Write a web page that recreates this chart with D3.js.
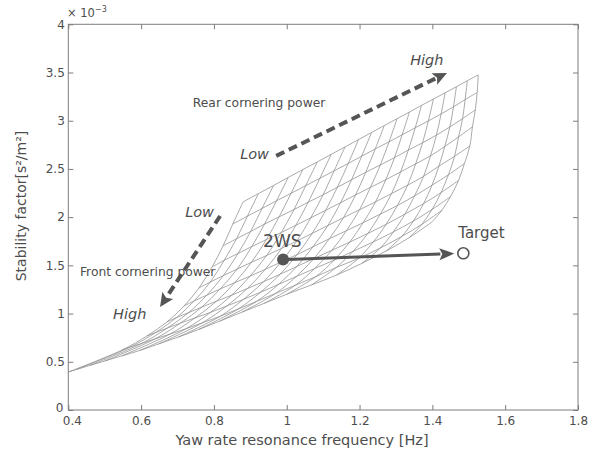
<!DOCTYPE html>
<html>
<head>
<meta charset="utf-8">
<script src="https://cdn.jsdelivr.net/npm/d3@7"></script>
<style>
  body { margin: 0; background: #fff; }
  text { font-family: "DejaVu Sans", sans-serif; }
</style>
</head>
<body>
<svg id="chart" width="595" height="461"></svg>
<script>
// Axis ticks
const xTickValues = [0.4, 0.6, 0.8, 1, 1.2, 1.4, 1.6, 1.8];
const yTickValues = [0, 0.5, 1, 1.5, 2, 2.5, 3, 3.5, 4];

// Yaw rate resonance frequency [Hz] over the cornering-power grid.
// Rows: front cornering power, low -> high. Columns: rear cornering power, low -> high.
const resonanceFreq = [
  [0.880, 0.922, 0.964, 1.004, 1.044, 1.084, 1.122, 1.160, 1.197, 1.233, 1.268, 1.303, 1.337, 1.370, 1.403, 1.435, 1.466, 1.496, 1.526],
  [0.852, 0.892, 0.932, 0.972, 1.012, 1.052, 1.091, 1.130, 1.169, 1.206, 1.243, 1.281, 1.317, 1.353, 1.389, 1.424, 1.458, 1.490, 1.523],
  [0.825, 0.862, 0.901, 0.939, 0.979, 1.020, 1.059, 1.100, 1.139, 1.178, 1.217, 1.257, 1.296, 1.334, 1.373, 1.411, 1.448, 1.483, 1.518],
  [0.795, 0.828, 0.866, 0.904, 0.944, 0.985, 1.025, 1.066, 1.107, 1.148, 1.189, 1.230, 1.272, 1.313, 1.354, 1.395, 1.434, 1.472, 1.510],
  [0.759, 0.790, 0.826, 0.864, 0.903, 0.945, 0.986, 1.028, 1.070, 1.113, 1.156, 1.200, 1.244, 1.288, 1.332, 1.376, 1.418, 1.461, 1.503],
  [0.718, 0.746, 0.781, 0.817, 0.857, 0.899, 0.941, 0.984, 1.028, 1.072, 1.117, 1.164, 1.210, 1.257, 1.304, 1.351, 1.399, 1.444, 1.488],
  [0.671, 0.697, 0.731, 0.767, 0.807, 0.849, 0.892, 0.937, 0.982, 1.028, 1.075, 1.124, 1.173, 1.223, 1.273, 1.325, 1.376, 1.424, 1.472],
  [0.616, 0.640, 0.672, 0.708, 0.748, 0.791, 0.835, 0.881, 0.928, 0.977, 1.026, 1.077, 1.130, 1.182, 1.238, 1.293, 1.348, 1.399, 1.450],
  [0.548, 0.569, 0.602, 0.638, 0.679, 0.723, 0.768, 0.817, 0.866, 0.917, 0.970, 1.024, 1.080, 1.136, 1.197, 1.257, 1.316, 1.371, 1.426],
  [0.400, 0.423, 0.459, 0.500, 0.546, 0.596, 0.648, 0.702, 0.758, 0.816, 0.876, 0.938, 1.001, 1.068, 1.137, 1.206, 1.273, 1.337, 1.399]
];

// Stability factor [x10^-3 s^2/m^2] on the same grid.
const stabilityFactor = [
  [2.158, 2.244, 2.329, 2.412, 2.493, 2.573, 2.651, 2.728, 2.804, 2.878, 2.950, 3.021, 3.090, 3.159, 3.225, 3.289, 3.353, 3.415, 3.475],
  [1.930, 2.010, 2.090, 2.170, 2.248, 2.326, 2.403, 2.480, 2.557, 2.633, 2.707, 2.781, 2.854, 2.927, 2.998, 3.070, 3.144, 3.219, 3.293],
  [1.702, 1.776, 1.852, 1.928, 2.003, 2.079, 2.155, 2.232, 2.310, 2.388, 2.465, 2.541, 2.617, 2.696, 2.771, 2.850, 2.935, 3.022, 3.112],
  [1.484, 1.552, 1.623, 1.695, 1.767, 1.841, 1.916, 1.993, 2.071, 2.150, 2.230, 2.309, 2.388, 2.470, 2.552, 2.637, 2.732, 2.832, 2.936],
  [1.266, 1.327, 1.394, 1.462, 1.532, 1.603, 1.677, 1.753, 1.832, 1.913, 1.995, 2.077, 2.159, 2.245, 2.331, 2.424, 2.529, 2.631, 2.738],
  [1.079, 1.132, 1.192, 1.255, 1.320, 1.388, 1.459, 1.534, 1.611, 1.693, 1.776, 1.860, 1.943, 2.031, 2.121, 2.220, 2.331, 2.439, 2.556],
  [0.913, 0.958, 1.011, 1.068, 1.128, 1.191, 1.260, 1.332, 1.408, 1.489, 1.572, 1.656, 1.741, 1.832, 1.925, 2.033, 2.141, 2.255, 2.381],
  [0.768, 0.804, 0.850, 0.901, 0.955, 1.013, 1.078, 1.147, 1.221, 1.302, 1.384, 1.468, 1.554, 1.645, 1.744, 1.847, 1.960, 2.079, 2.214],
  [0.623, 0.651, 0.691, 0.737, 0.787, 0.842, 0.904, 0.972, 1.046, 1.126, 1.210, 1.295, 1.383, 1.478, 1.572, 1.680, 1.800, 1.925, 2.071],
  [0.394, 0.421, 0.462, 0.508, 0.560, 0.617, 0.685, 0.756, 0.835, 0.922, 1.013, 1.106, 1.202, 1.297, 1.400, 1.520, 1.649, 1.789, 1.950]
];

// Operating points
const point2WS = [0.99, 1.56];
const pointTarget = [1.485, 1.625];

// Direction arrows for the cornering-power sweeps
const rearArrow = { from: [0.971, 2.635], to: [1.440, 3.496] };
const frontArrow = { from: [0.817, 2.012], to: [0.652, 1.068] };

// Text annotations
const notes = [
  { text: "Rear cornering power", at: [0.742, 3.143], size: 12.3, italic: false },
  { text: "Low", at: [0.872, 2.604], size: 14.5, italic: true },
  { text: "High", at: [1.339, 3.574], size: 14.5, italic: true },
  { text: "Front cornering power", at: [0.432, 1.390], size: 12.3, italic: false },
  { text: "Low", at: [0.721, 2.002], size: 14.5, italic: true },
  { text: "High", at: [0.523, 0.944], size: 14.5, italic: true },
  { text: "2WS", at: [0.935, 1.691], size: 17, italic: false },
  { text: "Target", at: [1.471, 1.784], size: 15, italic: false }
];

const svg = d3.select("#chart");
const plot = { left: 68.3, right: 578, top: 24.3, bottom: 410 };
const x = d3.scaleLinear().domain([0.4, 1.8]).range([plot.left, plot.right]);
const y = d3.scaleLinear().domain([0, 4]).range([plot.bottom, plot.top]);

const axisColor = "#7d7d7d";
const textColor = "#4d4d4d";
const markColor = "#555";

svg.append("defs").append("clipPath").attr("id", "plotClip")
  .append("rect")
  .attr("x", plot.left).attr("y", plot.top)
  .attr("width", plot.right - plot.left).attr("height", plot.bottom - plot.top);

// Wire mesh
const mesh = svg.append("g")
  .attr("clip-path", "url(#plotClip)")
  .attr("fill", "none")
  .attr("stroke", "#8e8e8e")
  .attr("stroke-width", 0.75);
const meshLine = d3.line()
  .x(d => x(d[0])).y(d => y(d[1]))
  .curve(d3.curveCatmullRom.alpha(0.5));

resonanceFreq.forEach((row, j) => {
  mesh.append("path").attr("d", meshLine(row.map((f, i) => [f, stabilityFactor[j][i]])));
});
d3.range(resonanceFreq[0].length).forEach(i => {
  mesh.append("path").attr("d", meshLine(resonanceFreq.map((row, j) => [row[i], stabilityFactor[j][i]])));
});

// Axes: MATLAB-style box with inward ticks
const fmt = d => String(d);
function styleAxis(g) {
  g.select(".domain").remove();
  g.selectAll(".tick line").attr("stroke", axisColor);
  g.selectAll(".tick text").attr("fill", textColor).attr("font-size", 12)
    .attr("font-family", "Liberation Sans, Arial, sans-serif");
}
const xAxisG = svg.append("g").attr("transform", `translate(0,${plot.bottom})`)
  .call(d3.axisBottom(x).tickValues(xTickValues).tickSize(-5).tickSizeOuter(0).tickPadding(6).tickFormat(fmt))
  .call(styleAxis);
// keep the first x label clear of the y-axis "0"
xAxisG.selectAll(".tick text").filter(d => d === xTickValues[0]).attr("dx", 3.5);

svg.append("g").attr("transform", `translate(0,${plot.top})`)
  .call(d3.axisTop(x).tickValues(xTickValues).tickSize(-5).tickSizeOuter(0).tickFormat(""))
  .call(styleAxis);
const yAxisG = svg.append("g").attr("transform", `translate(${plot.left},0)`)
  .call(d3.axisLeft(y).tickValues(yTickValues).tickSize(-5).tickSizeOuter(0).tickPadding(3.5).tickFormat(fmt))
  .call(styleAxis);
yAxisG.selectAll(".tick text").filter(d => d === yTickValues[0]).attr("dx", -1.5).attr("dy", "0.1em");

svg.append("g").attr("transform", `translate(${plot.right},0)`)
  .call(d3.axisRight(y).tickValues(yTickValues).tickSize(-5).tickSizeOuter(0).tickFormat(""))
  .call(styleAxis);

svg.append("rect")
  .attr("x", plot.left).attr("y", plot.top)
  .attr("width", plot.right - plot.left).attr("height", plot.bottom - plot.top)
  .attr("fill", "none").attr("stroke", axisColor).attr("stroke-width", 1);

// Exponent label
const expo = svg.append("text").attr("x", 67).attr("y", 17)
  .attr("fill", textColor).attr("font-size", 11.5).text("× 10");
expo.append("tspan").attr("dy", -5).attr("font-size", 8).text("−3");

// Axis titles
svg.append("text")
  .attr("x", 302).attr("y", 445)
  .attr("text-anchor", "middle")
  .attr("fill", textColor).attr("font-size", 14.5)
  .text("Yaw rate resonance frequency [Hz]");
svg.append("text")
  .attr("transform", "translate(26,206) rotate(-90)")
  .attr("text-anchor", "middle")
  .attr("fill", textColor).attr("font-size", 14)
  .text("Stability factor[s²/m²]");

// Arrow helper
function arrow(from, to, o) {
  const x0 = x(from[0]), y0 = y(from[1]), x1 = x(to[0]), y1 = y(to[1]);
  const dx = x1 - x0, dy = y1 - y0, len = Math.hypot(dx, dy);
  const ux = dx / len, uy = dy / len;
  const sx = x0 + ux * (o.startGap || 0), sy = y0 + uy * (o.startGap || 0);
  const tx = x1 - ux * (o.endGap || 0), ty = y1 - uy * (o.endGap || 0);
  const bx = tx - ux * o.headLen, by = ty - uy * o.headLen;
  svg.append("line")
    .attr("x1", sx).attr("y1", sy).attr("x2", bx + ux * 1).attr("y2", by + uy * 1)
    .attr("stroke", markColor).attr("stroke-width", o.width)
    .attr("stroke-dasharray", o.dash || null);
  const px = -uy, py = ux;
  svg.append("path")
    .attr("d", `M${tx},${ty}L${bx + px * o.headHalf},${by + py * o.headHalf}L${bx + ux * 3},${by + uy * 3}L${bx - px * o.headHalf},${by - py * o.headHalf}Z`)
    .attr("fill", markColor);
}

arrow(rearArrow.from, rearArrow.to, { width: 4, dash: "9 5", headLen: 14, headHalf: 6.5 });
arrow(frontArrow.from, frontArrow.to, { width: 4, dash: "9 5", headLen: 14, headHalf: 6.5 });
arrow(point2WS, pointTarget, { width: 3, headLen: 15, headHalf: 6, startGap: 4, endGap: 9 });

// Points
svg.append("circle")
  .attr("cx", x(point2WS[0])).attr("cy", y(point2WS[1])).attr("r", 6)
  .attr("fill", markColor);
svg.append("circle")
  .attr("cx", x(pointTarget[0])).attr("cy", y(pointTarget[1])).attr("r", 5.5)
  .attr("fill", "#fff").attr("stroke", markColor).attr("stroke-width", 1.6);

// Annotations
svg.append("g").selectAll("text").data(notes).join("text")
  .attr("x", d => x(d.at[0])).attr("y", d => y(d.at[1]))
  .attr("fill", textColor)
  .attr("font-size", d => d.size)
  .attr("font-style", d => d.italic ? "italic" : "normal")
  .text(d => d.text);
</script>
</body>
</html>
